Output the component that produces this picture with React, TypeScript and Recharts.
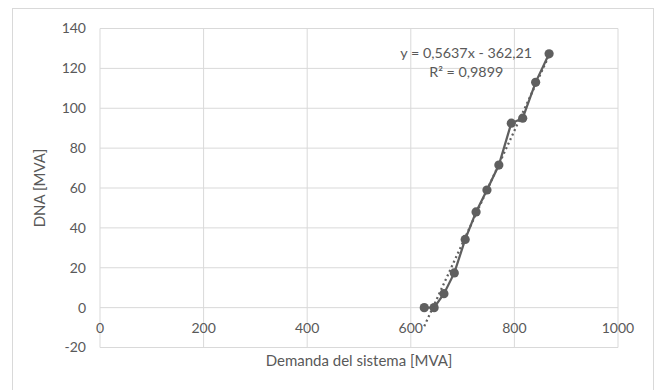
import React from 'react';
import { ScatterChart, Scatter, XAxis, YAxis, CartesianGrid, ReferenceDot, Label } from 'recharts';

const demandaMVA = [626, 645, 664, 684, 705, 726, 747, 770, 794, 816, 841, 867];
const dnaMVA = [0, 0, 7, 17.4, 34.2, 48, 59, 71.5, 92.5, 95, 113, 127.3];
const trendDemanda = [626, 867];
const trendDNA = [-9.3, 126.5];
const xTicks = [0, 200, 400, 600, 800, 1000];
const yTicks = [-20, 0, 20, 40, 60, 80, 100, 120, 140];
const equationText = 'y = 0,5637x - 362,21';
const r2Text = 'R² = 0,9899';
const xTitle = 'Demanda del sistema [MVA]';
const yTitle = 'DNA [MVA]';

const points = demandaMVA.map((x, i) => ({ x, y: dnaMVA[i] }));
const trend = trendDemanda.map((x, i) => ({ x, y: trendDNA[i] }));

const FONT = 'Lato, "Open Sans", sans-serif';
const TEXT = '#595959';
const GRID = '#d9d9d9';
const SERIES = '#5f5f5f';
const TICK_FS = 14;
const TITLE_FS = 15;
const EQ_FS = 14.3;

const XTick = (props: any) => (
  <text
    x={props.x}
    y={props.y - 20}
    textAnchor="middle"
    dominantBaseline="central"
    fill={TEXT}
    fontSize={TICK_FS}
    fontFamily={FONT}
  >
    {props.payload.value}
  </text>
);

export default function App() {
  return (
    <div style={{ position: 'absolute', left: 0, top: 0, width: 657, height: 390, overflow: 'hidden', background: '#fff' }}>
      <div
        style={{
          position: 'absolute',
          left: 12,
          top: 8,
          width: 642,
          height: 400,
          border: `1px solid ${GRID}`,
          boxSizing: 'border-box',
        }}
      />
      <div style={{ position: 'absolute', left: 0, top: 0 }}>
        <ScatterChart width={657} height={390} margin={{ top: 28.5, right: 39, bottom: 0, left: 40 }}>
          <CartesianGrid stroke={GRID} strokeWidth={1} />
          <XAxis
            type="number"
            dataKey="x"
            domain={[0, 1000]}
            ticks={xTicks}
            height={42.5}
            axisLine={false}
            tickLine={false}
            tickSize={0}
            tickMargin={0}
            tick={<XTick />}
            interval={0}
          >
            <Label value={xTitle} position="insideBottom" offset={24} fill={TEXT} fontSize={TITLE_FS} fontFamily={FONT} />
          </XAxis>
          <YAxis
            type="number"
            dataKey="y"
            domain={[-20, 140]}
            ticks={yTicks}
            width={60}
            axisLine={false}
            tickLine={false}
            tickSize={0}
            tickMargin={14}
            interval={0}
            tick={{ fill: TEXT, fontSize: TICK_FS, fontFamily: FONT }}
          >
            <Label value={yTitle} angle={-90} position="insideLeft" offset={0} fill={TEXT} fontSize={TITLE_FS} fontFamily={FONT} style={{ textAnchor: 'middle' }} />
          </YAxis>
          <Scatter
            data={points}
            fill={SERIES}
            line={{ stroke: SERIES, strokeWidth: 2.25 }}
            shape={(p: any) => <circle cx={p.cx} cy={p.cy} r={4.6} fill={SERIES} />}
            isAnimationActive={false}
          />
          <Scatter
            data={trend}
            fill="none"
            line={{ stroke: SERIES, strokeWidth: 2.25, strokeDasharray: '2 3' }}
            shape={() => <g />}
            isAnimationActive={false}
          />
          <ReferenceDot x={707} y={128} r={0} stroke="none" fill="none" label={{ value: equationText, position: 'center', fill: TEXT, fontSize: EQ_FS, fontFamily: FONT }} />
          <ReferenceDot x={707} y={118} r={0} stroke="none" fill="none" label={{ value: r2Text, position: 'center', fill: TEXT, fontSize: EQ_FS, fontFamily: FONT }} />
        </ScatterChart>
      </div>
    </div>
  );
}
